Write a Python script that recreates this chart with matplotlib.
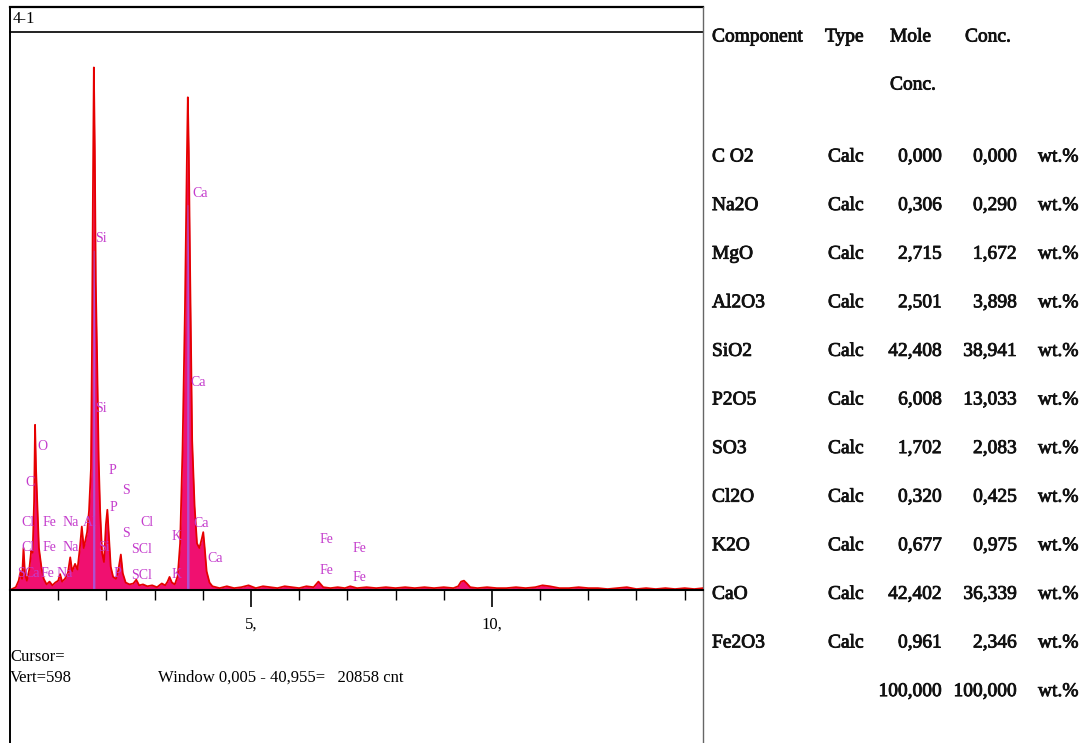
"""EDS spectrum '4-1' with the oxide composition table beside it."""

import matplotlib

matplotlib.use("Agg")
import matplotlib.pyplot as plt
import matplotlib.patheffects as pe

W, H = 1092, 743

# spectrum: energy (keV) and counts
spectrum_kev = [
    0.00, 0.12, 0.18, 0.22, 0.25, 0.28, 0.31, 0.35, 0.40, 0.44, 0.47, 0.50,
    0.52, 0.54, 0.565, 0.60, 0.65, 0.70, 0.76, 0.82, 0.88, 0.94, 1.00, 1.04,
    1.08, 1.14, 1.20, 1.25, 1.29, 1.35, 1.40, 1.45, 1.49, 1.53, 1.57, 1.60,
    1.64, 1.68, 1.70, 1.72, 1.74, 1.76, 1.78, 1.81, 1.84, 1.87, 1.91, 1.95,
    1.99, 2.02, 2.05, 2.09, 2.14, 2.20, 2.25, 2.30, 2.34, 2.40, 2.48, 2.56,
    2.62, 2.68, 2.76, 2.85, 2.95, 3.05, 3.15, 3.22, 3.27, 3.31, 3.36, 3.42,
    3.48, 3.53, 3.58, 3.63, 3.67, 3.69, 3.71, 3.74, 3.78, 3.83, 3.88, 3.93,
    3.98, 4.01, 4.04, 4.08, 4.14, 4.20, 4.35, 4.50, 4.65, 4.80, 4.95, 5.10,
    5.25, 5.40, 5.55, 5.70, 5.85, 6.00, 6.15, 6.30, 6.40, 6.50, 6.65, 6.80,
    6.95, 7.06, 7.20, 7.40, 7.60, 7.80, 8.00, 8.20, 8.40, 8.60, 8.80, 9.00,
    9.20, 9.30, 9.36, 9.42, 9.48, 9.55, 9.70, 9.90, 10.10, 10.30, 10.50,
    10.70, 10.90, 11.05, 11.20, 11.40, 11.60, 11.80, 12.00, 12.20, 12.40,
    12.60, 12.80, 13.00, 13.20, 13.40, 13.60, 13.80, 14.00, 14.20, 14.38,
]
spectrum_counts = [
    0, 3, 10, 20, 12, 45, 18, 10, 22, 42, 40, 95,
    177, 130, 95, 45, 25, 12, 6, 9, 5, 8, 10, 17,
    9, 12, 18, 35, 20, 28, 22, 45, 68, 45, 55, 62,
    85, 130, 250, 420, 560, 470, 330, 240, 140, 85, 40, 30,
    70, 86, 60, 25, 14, 12, 22, 38, 18, 8, 6, 7,
    11, 5, 6, 4, 5, 3, 7, 5, 9, 14, 8, 6,
    15, 50, 150, 300, 460, 528, 470, 330, 160, 90, 50, 45,
    55, 62, 45, 20, 8, 4, 2, 4, 2, 3, 5, 2,
    4, 3, 2, 4, 3, 2, 4, 3, 9, 3, 2, 3,
    2, 4, 2, 3, 2, 3, 2, 3, 2, 3, 2, 3,
    2, 4, 9, 10, 7, 3, 2, 3, 2, 2, 3,
    2, 3, 5, 4, 2, 2, 3, 2, 2, 1,
    2, 3, 1, 2, 1, 2, 1, 2, 1, 2,
]

# fitted (purple) cores of the Si and Ca peaks
fit_kev = [1.712, 1.722, 1.752, 1.762, 3.662, 3.672, 3.705, 3.715]
fit_counts = [0, 364, 364, 0, 0, 413, 413, 0]

# element markers: label, energy position (keV), height (counts)
marker_labels = ["Ca", "Si", "Ca", "Si", "O", "C", "P", "S", "P", "S", "Cl",
                 "SCl", "SCl", "Cl", "Fe", "Na", "Al", "Cl", "Fe", "Na", "Si",
                 "S", "Ca", "Fe", "Na", "P", "K", "K", "Ca", "Ca",
                 "Fe", "Fe", "Fe", "Fe"]
marker_kev = [3.78, 1.76, 3.74, 1.76, 0.56, 0.31, 2.05, 2.32, 2.07, 2.32, 2.70,
              2.51, 2.51, 0.23, 0.67, 1.10, 1.51, 0.23, 0.67, 1.10, 1.82,
              0.14, 0.30, 0.64, 0.96, 2.14, 3.36, 3.36, 3.80, 4.09,
              6.43, 6.43, 7.10, 7.10]
marker_counts = [425, 377, 222, 195, 154, 115, 128, 107, 88, 61, 72,
                 43, 16, 72, 72, 72, 72, 46, 46, 46, 46,
                 18, 18, 18, 18, 18, 57, 17, 71, 34,
                 54, 21, 45, 13]

# composition table
components = ["C O2", "Na2O", "MgO", "Al2O3", "SiO2", "P2O5", "SO3", "Cl2O",
              "K2O", "CaO", "Fe2O3"]
types = ["Calc"] * len(components)
mole_conc = [0.000, 0.306, 2.715, 2.501, 42.408, 6.008, 1.702, 0.320, 0.677,
             42.402, 0.961]
wt_conc = [0.000, 0.290, 1.672, 3.898, 38.941, 13.033, 2.083, 0.425, 0.975,
           36.339, 2.346]
total_mole = 100.000
total_wt = 100.000

SERIF = ["Liberation Serif", "DejaVu Serif"]
MAGENTA = "#c43ccc"
BOLDISH = [pe.withStroke(linewidth=0.6, foreground="#111111")]


def comma(v):
    return f"{v:.3f}".replace(".", ",")


def ttext(x, y, s, ha="left"):
    bg.text(x, y, s, family=SERIF, fontsize=14, va="center", ha=ha,
            color="#111111", path_effects=BOLDISH)


fig = plt.figure(figsize=(W / 100, H / 100), dpi=100)
bg = fig.add_axes([0, 0, 1, 1])
bg.set_xlim(0, W)
bg.set_ylim(H, 0)
bg.axis("off")

# window frame with title bar
bg.plot([10, 703], [7, 7], color="black", lw=1.6)
bg.plot([10, 703], [32, 32], color="#222222", lw=1.4)
bg.plot([10, 10], [7, H], color="black", lw=1.4)
bg.plot([703, 703], [7, H], color="#666666", lw=1.0)
bg.text(13, 19, "4-1", family=SERIF, fontsize=12, va="center", ha="left")

# spectrum
ax = fig.add_axes([10 / W, (H - 590) / H, 693 / W, 558 / H])
ax.set_xlim(0, 14.38)
ax.set_ylim(0, 598)
ax.patch.set_alpha(0)
for side in ("top", "left", "right"):
    ax.spines[side].set_visible(False)
ax.spines["bottom"].set_linewidth(1.5)
ax.set_yticks([])

ax.fill_between(spectrum_kev, spectrum_counts, color="#f01070", lw=0)
ax.fill_between(fit_kev, fit_counts, color="#b04fd0", lw=0)
ax.plot(spectrum_kev, spectrum_counts, color="#e60000", lw=1.3)

for lab, x, y in zip(marker_labels, marker_kev, marker_counts):
    ax.text(x, y, lab, color=MAGENTA, family=SERIF, fontsize=10,
            ha="left", va="center", clip_on=False)

ax.set_xticks([5, 10])
ax.set_xticklabels(["5,", "10,"], family=SERIF, fontsize=12)
ax.set_xticks([k for k in range(1, 15) if k not in (5, 10)], minor=True)
ax.tick_params(axis="x", which="major", length=12, width=1.2, pad=7)
ax.tick_params(axis="x", which="minor", length=7, width=1.0)

bg.text(10, 657, "Cursor=", family=SERIF, fontsize=12, va="center")
bg.text(10, 678, "Vert=598", family=SERIF, fontsize=12, va="center")
bg.text(158, 678, "Window 0,005 - 40,955=   20858 cnt", family=SERIF,
        fontsize=12, va="center")

# table on the right
ttext(712, 37, "Component")
ttext(825, 37, "Type")
ttext(890, 37, "Mole")
ttext(890, 85, "Conc.")
ttext(965, 37, "Conc.")

row_y = [157 + 48.6 * i for i in range(len(components) + 1)]
for i, (c, t, m, w) in enumerate(zip(components, types, mole_conc, wt_conc)):
    y = row_y[i]
    ttext(712, y, c)
    ttext(828, y, t)
    ttext(942, y, comma(m), ha="right")
    ttext(1017, y, comma(w), ha="right")
    ttext(1038, y, "wt.%")
y = row_y[-1]
ttext(942, y, comma(total_mole), ha="right")
ttext(1017, y, comma(total_wt), ha="right")
ttext(1038, y, "wt.%")

fig.savefig("out.png", dpi=100)
